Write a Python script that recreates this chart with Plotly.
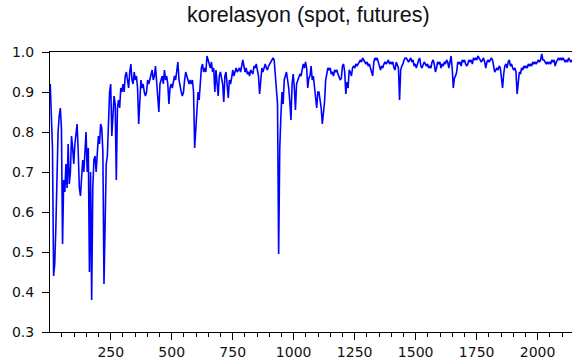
import numpy as np
import plotly.graph_objects as go

title_text = "korelasyon (spot, futures)"

obs_start = 2.0
obs_step = 4.59

korelasyon = [
    0.92, 0.80, 0.76, 0.44, 0.47, 0.56, 0.70, 0.80, 0.84, 0.86,
    0.81, 0.52, 0.68, 0.65, 0.72, 0.66, 0.77, 0.67, 0.70, 0.79,
    0.76, 0.72, 0.77, 0.80, 0.82, 0.75, 0.66, 0.64, 0.70, 0.73,
    0.70, 0.75, 0.80, 0.70, 0.76, 0.45, 0.70, 0.38, 0.66, 0.73,
    0.74, 0.70, 0.75, 0.79, 0.77, 0.82, 0.81, 0.75, 0.42, 0.60,
    0.72, 0.74, 0.83, 0.90, 0.92, 0.79, 0.84, 0.89, 0.87, 0.68,
    0.86, 0.88, 0.86, 0.91, 0.90, 0.92,
    0.90, 0.94, 0.95, 0.92, 0.91, 0.95, 0.97, 0.93, 0.92, 0.95,
    0.93, 0.94, 0.91, 0.82, 0.88, 0.93, 0.91, 0.92, 0.90, 0.89,
    0.90, 0.93, 0.92, 0.93, 0.94, 0.955, 0.93, 0.94, 0.965, 0.93,
    0.90, 0.85, 0.92, 0.93, 0.94, 0.92, 0.955, 0.93, 0.94, 0.92,
    0.87, 0.91, 0.92, 0.91, 0.93, 0.94, 0.93, 0.95, 0.975, 0.93,
    0.91, 0.90, 0.89, 0.90, 0.93, 0.95, 0.94, 0.93, 0.92, 0.93,
    0.92, 0.93, 0.90, 0.76, 0.81, 0.86, 0.90,
    0.88, 0.93, 0.96, 0.97, 0.95, 0.96, 0.95, 0.99, 0.98, 0.97,
    0.96, 0.975, 0.95, 0.96, 0.90, 0.955, 0.93, 0.89, 0.94, 0.95,
    0.935, 0.92, 0.875, 0.94, 0.95, 0.91, 0.885, 0.93, 0.92, 0.935,
    0.955, 0.94, 0.95, 0.96, 0.95, 0.955, 0.96, 0.95, 0.97, 0.98,
    0.965, 0.95, 0.96, 0.945, 0.95, 0.94, 0.955, 0.95, 0.945, 0.965,
    0.96, 0.97, 0.955, 0.94, 0.895, 0.93, 0.96, 0.95, 0.965, 0.97,
    0.96, 0.955, 0.965, 0.97, 0.975, 0.98, 0.985,
    0.98, 0.945, 0.92, 0.87, 0.495, 0.76, 0.84, 0.90, 0.87, 0.93,
    0.94, 0.95, 0.93, 0.91, 0.875, 0.83, 0.92, 0.945, 0.91, 0.855,
    0.92, 0.93, 0.94, 0.945, 0.94, 0.96, 0.97, 0.96, 0.975, 0.96,
    0.91, 0.935, 0.94, 0.965, 0.93, 0.94, 0.91, 0.89, 0.86, 0.90,
    0.90, 0.88, 0.86, 0.82, 0.85, 0.875, 0.93, 0.95, 0.96, 0.955,
    0.96, 0.945, 0.95, 0.94, 0.955, 0.95, 0.955, 0.945, 0.935, 0.93,
    0.935, 0.965, 0.97, 0.95, 0.895, 0.925, 0.91,
    0.955, 0.95, 0.94, 0.96, 0.965, 0.96, 0.97, 0.965, 0.97, 0.975,
    0.98, 0.975, 0.985, 0.98, 0.975, 0.97, 0.975, 0.965, 0.97, 0.96,
    0.955, 0.94, 0.975, 0.985, 0.98, 0.985, 0.975, 0.96, 0.955, 0.965,
    0.96, 0.97, 0.975, 0.97, 0.975, 0.98, 0.97, 0.975, 0.97, 0.975,
    0.96, 0.955, 0.975, 0.965, 0.96, 0.88, 0.955, 0.965, 0.97, 0.98,
    0.985, 0.985, 0.98, 0.975, 0.98, 0.985, 0.975, 0.98, 0.965, 0.97,
    0.96, 0.975, 0.98, 0.985, 0.965, 0.96, 0.97,
    0.975, 0.97, 0.965, 0.97, 0.96, 0.965, 0.96, 0.975, 0.98, 0.97,
    0.95, 0.96, 0.975, 0.97, 0.975, 0.96, 0.97, 0.965, 0.975, 0.97,
    0.98, 0.975, 0.96, 0.975, 0.99, 0.96, 0.91, 0.935, 0.94, 0.95,
    0.975, 0.97, 0.975, 0.965, 0.98, 0.975, 0.98, 0.97, 0.965, 0.97,
    0.98, 0.975, 0.98, 0.97, 0.985, 0.98, 0.985, 0.98, 0.99, 0.985,
    0.98, 0.975, 0.98, 0.985, 0.975, 0.96, 0.975, 0.98, 0.975, 0.98,
    0.985, 0.98, 0.96, 0.95, 0.955, 0.96, 0.955,
    0.965, 0.96, 0.935, 0.91, 0.945, 0.965, 0.97, 0.96, 0.975, 0.98,
    0.965, 0.97, 0.96, 0.955, 0.96, 0.95, 0.895, 0.93, 0.95, 0.945,
    0.96, 0.955, 0.965, 0.96, 0.965, 0.96, 0.97, 0.965, 0.97, 0.965,
    0.975, 0.97, 0.975, 0.97, 0.975, 0.98, 0.975, 0.98, 0.995, 0.98,
    0.98, 0.975, 0.97, 0.975, 0.97, 0.975, 0.97, 0.98, 0.975, 0.98,
    0.965, 0.975, 0.98, 0.985, 0.98, 0.985, 0.98, 0.985, 0.98, 0.975,
    0.98, 0.975, 0.985, 0.98, 0.975, 0.98,
]

obs = obs_start + obs_step * np.arange(len(korelasyon))

x_ticks = [250, 500, 750, 1000, 1250, 1500, 1750, 2000]
x_tick_labels = [str(v) for v in x_ticks]
y_ticks = [0.3, 0.4, 0.5, 0.6, 0.7, 0.8, 0.9, 1.0]
y_tick_labels = [f"{v:.1f}" for v in y_ticks]

title_font = "Liberation Sans, Arial, sans-serif"
tick_font = "DejaVu Sans, Verdana, sans-serif"

fig = go.Figure()
fig.add_trace(go.Scatter(
    x=obs, y=korelasyon, mode="lines",
    line=dict(color="#0000FF", width=1.6),
    showlegend=False, hoverinfo="skip",
))

fig.update_layout(
    width=572, height=362,
    margin=dict(l=50, r=0, t=52, b=30),
    paper_bgcolor="white", plot_bgcolor="white",
    font=dict(family=tick_font, color="black", size=14),
    annotations=[dict(
        text=title_text, xref="paper", yref="paper",
        x=0.496, y=1.0, yshift=23, xanchor="center", yanchor="bottom",
        showarrow=False, font=dict(size=21.5, family=title_font, color="#111111"),
    )],
)

fig.update_xaxes(
    range=[1, 2141],
    tickmode="array", tickvals=x_ticks, ticktext=x_tick_labels,
    ticks="outside", ticklen=7, tickwidth=1, tickcolor="black",
    minor=dict(tickmode="linear", tick0=0, dtick=50, ticks="outside",
               ticklen=4, tickwidth=1, tickcolor="black", showgrid=False),
    showline=True, linecolor="black", linewidth=1, mirror=True,
    showgrid=False, zeroline=False,
    tickfont=dict(size=14, family=tick_font, color="#111111"),
)
fig.update_yaxes(
    range=[0.3, 1.0],
    tickmode="array", tickvals=y_ticks, ticktext=y_tick_labels,
    ticks="outside", ticklen=7, tickwidth=1, tickcolor="black",
    ticklabelstandoff=5,
    showline=True, linecolor="black", linewidth=1,
    showgrid=False, zeroline=False,
    tickfont=dict(size=14, family=tick_font, color="#111111"),
)

fig.write_html("out.html")
